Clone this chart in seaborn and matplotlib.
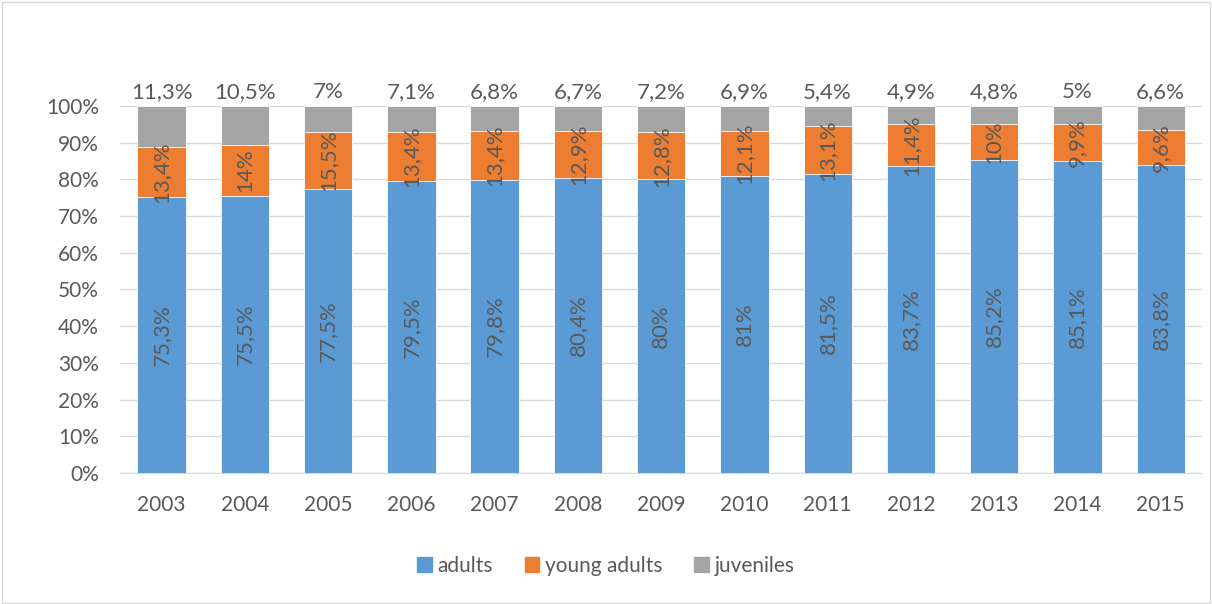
import numpy as np
import pandas as pd
import matplotlib as mpl
mpl.use('Agg')
import matplotlib.pyplot as plt
from matplotlib.patches import Patch
import seaborn as sns

years = ['2003', '2004', '2005', '2006', '2007', '2008', '2009',
         '2010', '2011', '2012', '2013', '2014', '2015']
adults = [75.3, 75.5, 77.5, 79.5, 79.8, 80.4, 80.0, 81.0, 81.5, 83.7, 85.2, 85.1, 83.8]
young_adults = [13.4, 14.0, 15.5, 13.4, 13.4, 12.9, 12.8, 12.1, 13.1, 11.4, 10.0, 9.9, 9.6]
juveniles = [11.3, 10.5, 7.0, 7.1, 6.8, 6.7, 7.2, 6.9, 5.4, 4.9, 4.8, 5.0, 6.6]

c_adult = '#5B9BD5'
c_young = '#ED7D31'
c_juv = '#A5A5A5'
txt = '#595959'
fs = 15
fs_lab = 16


def fmt(v):
    s = '{0:.1f}'.format(v).rstrip('0').rstrip('.')
    return s.replace('.', ',') + '%'


sns.set_style('white')
plt.rcParams['font.family'] = ['Lato', 'DejaVu Sans']

df = pd.DataFrame({'year': years, 'adults': adults,
                   'young': young_adults, 'juv': juveniles})
df['top2'] = df['adults'] + df['young']
df['total'] = df['top2'] + df['juv']

fig = plt.figure(figsize=(12.12, 6.04), dpi=100)
ax = fig.add_axes([0.099, 0.217, 0.893, 0.6075])

bw = 0.58
# stacked bars drawn as cumulative layers, tallest first
sns.barplot(data=df, x='year', y='total', color=c_juv, width=bw, saturation=1, ax=ax,
            zorder=3, edgecolor='white', linewidth=0.6)
sns.barplot(data=df, x='year', y='top2', color=c_young, width=bw, saturation=1, ax=ax,
            zorder=3, edgecolor='white', linewidth=0.6)
sns.barplot(data=df, x='year', y='adults', color=c_adult, width=bw, saturation=1, ax=ax,
            zorder=3, edgecolor='white', linewidth=0.6)

for i in range(len(years)):
    a, y, j = adults[i], young_adults[i], juveniles[i]
    ax.text(i, a / 2, fmt(a), rotation=90, ha='center', va='center',
            fontsize=fs_lab, color=txt, zorder=5)
    ax.text(i, a + y / 2, fmt(y), rotation=90, ha='center', va='center',
            fontsize=fs_lab, color=txt, zorder=5)
    ax.text(i, 100 + 1.2, fmt(j), ha='center', va='bottom',
            fontsize=fs_lab, color=txt, zorder=5)

ax.set_ylim(0, 100)
ax.set_xlim(-0.5, len(years) - 0.5)
ax.set_yticks(np.arange(0, 101, 10))
ax.set_yticklabels(['{0}%'.format(v) for v in range(0, 101, 10)])
ax.yaxis.grid(True, color='#D9D9D9', linewidth=1, zorder=0)
ax.set_axisbelow(True)
for s in ['top', 'right', 'left']:
    ax.spines[s].set_visible(False)
ax.spines['bottom'].set_color('#D9D9D9')
ax.tick_params(axis='both', length=0, labelsize=fs, colors=txt)
ax.tick_params(axis='y', pad=15)
ax.tick_params(axis='x', pad=16)
ax.set_xlabel('')
ax.set_ylabel('')

handles = [Patch(color=c_adult, label='adults'),
           Patch(color=c_young, label='young adults'),
           Patch(color=c_juv, label='juveniles')]
fig.legend(handles=handles, loc='center', bbox_to_anchor=(0.5, 0.063), ncol=3,
           frameon=False, fontsize=fs, labelcolor=txt, handlelength=0.7,
           handleheight=0.7, handletextpad=0.3, columnspacing=1.5)

fig.patches.append(plt.Rectangle((0.002, 0.002), 0.996, 0.994, transform=fig.transFigure,
                                 fill=False, edgecolor='#D9D9D9', linewidth=1))

fig.savefig('out.png', dpi=100)
